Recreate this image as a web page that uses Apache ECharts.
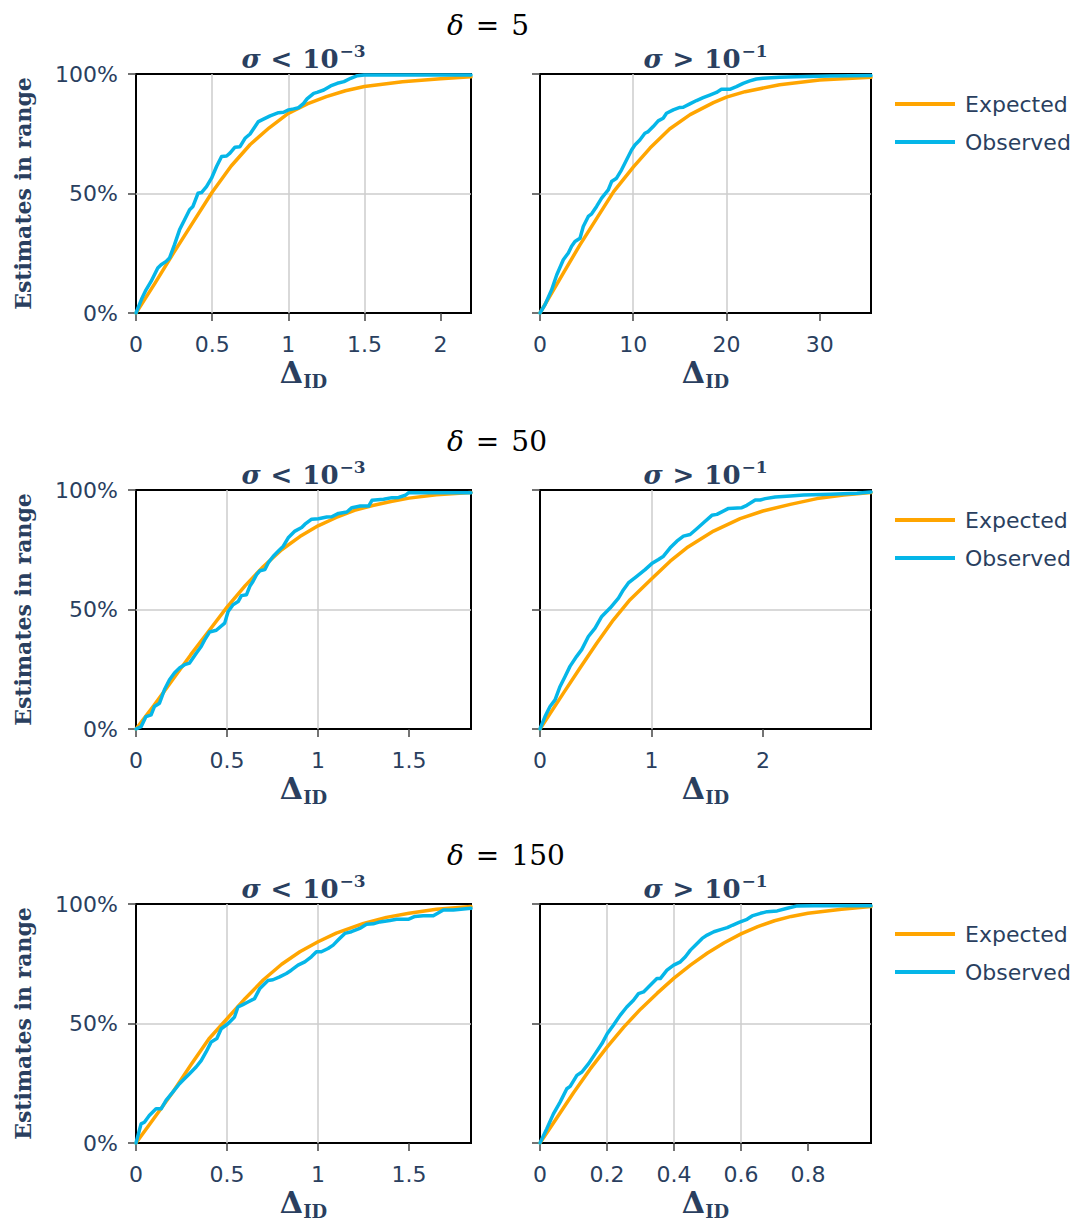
<!DOCTYPE html>
<html>
<head>
<meta charset="utf-8">
<title>Estimates in range</title>
<script src="https://cdn.jsdelivr.net/npm/echarts@6/dist/echarts.min.js"></script>
<style>
html, body { margin: 0; padding: 0; background: #fff; }
#chart { width: 1088px; height: 1222px; }
</style>
</head>
<body>
<div id="chart"></div>
<script>
// values: [Delta_ID, share of estimates in range]
var deltas = ['5', '50', '150'];
var sigmaOps = ['<', '>'];
var sigmaExps = ['\u22123', '\u22121'];

var xMax = [2.2, 35.5, 1.84, 2.97, 1.84, 0.988];
var xStep = [0.5, 10, 0.5, 1, 0.5, 0.2];
var xTicks = [
	[0, 0.5, 1, 1.5, 2],
	[0, 10, 20, 30],
	[0, 0.5, 1, 1.5],
	[0, 1, 2],
	[0, 0.5, 1, 1.5],
	[0, 0.2, 0.4, 0.6, 0.8]
];
var yTicks = [0, 0.5, 1];

var expD5Lo = [[0,0],[0.125,0.125],[0.25,0.255],[0.375,0.38],[0.5,0.505],[0.625,0.615],[0.75,0.705],[0.875,0.775],[1,0.835],[1.125,0.875],[1.25,0.905],[1.375,0.93],[1.5,0.948],[1.75,0.968],[2,0.98],[2.2,0.988]];
var obsD5Lo = [[0,0],[0.04,0.063],[0.066,0.097],[0.099,0.132],[0.143,0.188],[0.165,0.202],[0.198,0.216],[0.22,0.23],[0.253,0.286],[0.286,0.348],[0.319,0.39],[0.352,0.432],[0.374,0.446],[0.407,0.501],[0.43,0.504],[0.463,0.529],[0.496,0.564],[0.529,0.613],[0.562,0.655],[0.595,0.657],[0.617,0.669],[0.65,0.694],[0.683,0.696],[0.716,0.731],[0.749,0.749],[0.804,0.801],[0.837,0.811],[0.881,0.825],[0.936,0.838],[0.969,0.84],[1.002,0.85],[1.035,0.854],[1.068,0.859],[1.101,0.877],[1.123,0.896],[1.167,0.919],[1.189,0.923],[1.233,0.933],[1.278,0.95],[1.322,0.961],[1.366,0.968],[1.41,0.982],[1.454,0.993],[1.498,0.996],[2.2,0.996]];

var expD5Hi = [[0,0],[2.5,0.167],[4.3,0.286],[6.1,0.397],[7.9,0.508],[10,0.61],[11.8,0.69],[13.9,0.77],[16.1,0.83],[18.6,0.88],[20,0.903],[22,0.926],[25.7,0.955],[30,0.975],[35.5,0.986]];
var obsD5Hi = [[0,0],[0.54,0.035],[1.25,0.097],[1.79,0.159],[2.5,0.223],[3.04,0.251],[3.39,0.279],[3.75,0.299],[4.29,0.313],[4.64,0.362],[5.18,0.404],[5.54,0.415],[6.07,0.446],[6.61,0.481],[7.32,0.515],[7.68,0.55],[8.21,0.564],[8.75,0.599],[9.29,0.641],[9.82,0.682],[10.18,0.703],[10.71,0.724],[11.25,0.752],[11.61,0.759],[12.14,0.78],[12.68,0.804],[13.21,0.815],[13.57,0.836],[14.29,0.85],[15,0.86],[15.36,0.861],[16.07,0.875],[16.79,0.889],[17.5,0.901],[18.21,0.912],[18.93,0.923],[19.46,0.936],[20.36,0.936],[21.07,0.947],[21.79,0.961],[22.5,0.971],[23.21,0.979],[23.93,0.982],[25.71,0.986],[27.5,0.989],[31.07,0.992],[35.5,0.994]];

var expD50Lo = [[0,0],[0.1,0.1],[0.2,0.205],[0.3,0.31],[0.4,0.41],[0.5,0.51],[0.6,0.6],[0.7,0.68],[0.8,0.75],[0.9,0.805],[1,0.85],[1.1,0.885],[1.2,0.915],[1.3,0.935],[1.4,0.952],[1.5,0.966],[1.65,0.98],[1.84,0.99]];
var obsD50Lo = [[0,0],[0.028,0.01],[0.055,0.052],[0.083,0.059],[0.101,0.094],[0.129,0.108],[0.156,0.164],[0.184,0.206],[0.211,0.234],[0.239,0.255],[0.267,0.269],[0.294,0.276],[0.331,0.317],[0.358,0.345],[0.377,0.373],[0.404,0.406],[0.441,0.413],[0.487,0.443],[0.506,0.492],[0.533,0.52],[0.561,0.533],[0.579,0.558],[0.607,0.562],[0.625,0.597],[0.643,0.618],[0.662,0.646],[0.68,0.662],[0.708,0.667],[0.726,0.695],[0.754,0.723],[0.781,0.744],[0.809,0.765],[0.836,0.8],[0.873,0.828],[0.91,0.843],[0.928,0.857],[0.965,0.878],[1.002,0.88],[1.048,0.887],[1.075,0.888],[1.112,0.902],[1.158,0.908],[1.186,0.926],[1.232,0.933],[1.278,0.933],[1.296,0.957],[1.36,0.961],[1.406,0.968],[1.443,0.969],[1.48,0.978],[1.498,0.989],[1.618,0.989],[1.84,0.989]];

var expD50Hi = [[0,0],[0.21,0.15],[0.359,0.255],[0.509,0.359],[0.659,0.457],[0.808,0.541],[1,0.628],[1.168,0.702],[1.317,0.758],[1.557,0.828],[1.796,0.88],[2,0.912],[2.246,0.94],[2.485,0.964],[2.725,0.979],[2.97,0.989]];
var obsD50Hi = [[0,0],[0.045,0.052],[0.09,0.094],[0.135,0.122],[0.18,0.178],[0.225,0.22],[0.269,0.262],[0.329,0.304],[0.374,0.332],[0.434,0.387],[0.494,0.422],[0.554,0.471],[0.629,0.506],[0.704,0.548],[0.749,0.583],[0.793,0.611],[0.868,0.639],[0.943,0.667],[1.003,0.692],[1.063,0.709],[1.108,0.723],[1.168,0.758],[1.228,0.786],[1.287,0.807],[1.347,0.814],[1.407,0.838],[1.467,0.863],[1.542,0.894],[1.587,0.898],[1.692,0.923],[1.811,0.926],[1.856,0.936],[1.931,0.958],[1.976,0.958],[2.021,0.964],[2.111,0.971],[2.246,0.975],[2.365,0.979],[2.605,0.982],[2.844,0.986],[2.97,0.992]];

var expD150Lo = [[0,0],[0.1,0.105],[0.2,0.21],[0.3,0.325],[0.4,0.435],[0.5,0.52],[0.6,0.605],[0.7,0.683],[0.8,0.748],[0.9,0.8],[1,0.842],[1.1,0.878],[1.25,0.919],[1.375,0.944],[1.5,0.961],[1.65,0.978],[1.84,0.99]];
var obsD150Lo = [[0,0],[0.028,0.08],[0.046,0.087],[0.073,0.115],[0.11,0.143],[0.138,0.143],[0.165,0.178],[0.202,0.213],[0.239,0.248],[0.266,0.269],[0.294,0.29],[0.33,0.318],[0.358,0.345],[0.385,0.381],[0.413,0.423],[0.444,0.437],[0.468,0.478],[0.505,0.499],[0.541,0.527],[0.56,0.569],[0.587,0.579],[0.615,0.59],[0.651,0.604],[0.679,0.645],[0.697,0.659],[0.725,0.68],[0.752,0.683],[0.789,0.695],[0.826,0.709],[0.853,0.723],[0.89,0.744],[0.927,0.758],[0.963,0.779],[0.991,0.8],[1.018,0.8],[1.055,0.814],[1.083,0.828],[1.11,0.849],[1.147,0.877],[1.183,0.884],[1.229,0.898],[1.266,0.915],[1.303,0.917],[1.339,0.925],[1.394,0.931],[1.431,0.936],[1.495,0.936],[1.532,0.948],[1.578,0.951],[1.633,0.951],[1.688,0.975],[1.743,0.975],[1.798,0.979],[1.84,0.982]];

var expD150Hi = [[0,0],[0.05,0.105],[0.1,0.21],[0.15,0.31],[0.2,0.401],[0.25,0.485],[0.3,0.56],[0.35,0.627],[0.4,0.69],[0.45,0.745],[0.5,0.795],[0.55,0.838],[0.6,0.875],[0.65,0.905],[0.7,0.93],[0.75,0.948],[0.8,0.961],[0.9,0.978],[0.988,0.989]];
var obsD150Hi = [[0,0],[0.02,0.059],[0.04,0.122],[0.06,0.171],[0.08,0.227],[0.09,0.237],[0.11,0.283],[0.125,0.297],[0.145,0.332],[0.165,0.374],[0.185,0.416],[0.201,0.458],[0.219,0.493],[0.239,0.534],[0.259,0.569],[0.279,0.597],[0.294,0.625],[0.309,0.632],[0.329,0.66],[0.349,0.688],[0.359,0.688],[0.379,0.723],[0.399,0.744],[0.419,0.758],[0.434,0.779],[0.449,0.807],[0.469,0.835],[0.484,0.856],[0.499,0.87],[0.519,0.884],[0.539,0.893],[0.559,0.901],[0.574,0.911],[0.594,0.923],[0.618,0.936],[0.633,0.95],[0.658,0.961],[0.678,0.968],[0.708,0.971],[0.738,0.982],[0.768,0.992],[0.818,0.993],[0.988,0.993]];

var expected = [expD5Lo, expD5Hi, expD50Lo, expD50Hi, expD150Lo, expD150Hi];
var observed = [obsD5Lo, obsD5Hi, obsD50Lo, obsD50Hi, obsD150Lo, obsD150Hi];

// layout
var colLeft = [136, 540];
var colWidth = [335, 331];
var rowTop = [74, 490, 904];
var plotH = 239;
var ink = '#2a3f5f';
var orange = '#ffa500';
var blue = '#05b6e8';
var tickFont = 'DejaVu Sans';
var mathFont = 'DejaVu Serif';

var grids = [], xAxes = [], yAxes = [], series = [], legends = [], graphics = [];

for (var i = 0; i < 6; i++) {
	var r = Math.floor(i / 2), c = i % 2;
	grids.push({
		left: colLeft[c], top: rowTop[r], width: colWidth[c], height: plotH,
		show: true, borderColor: '#000', borderWidth: 2, backgroundColor: '#fff',
		containLabel: false, outerBoundsMode: 'none'
	});
	xAxes.push({
		gridIndex: i, type: 'value', min: 0, max: xMax[i], interval: xStep[i],
		axisLine: { show: false },
		axisTick: { show: true, length: 8, customValues: xTicks[i], lineStyle: { color: '#444', width: 1.5 } },
		axisLabel: { customValues: xTicks[i], margin: 20, fontSize: 22, fontFamily: tickFont, color: ink },
		splitLine: { show: true, showMinLine: false, showMaxLine: false, lineStyle: { color: '#cccccc', width: 1.5 } }
	});
	yAxes.push({
		gridIndex: i, type: 'value', min: 0, max: 1, interval: 0.5,
		axisLine: { show: false },
		axisTick: { show: true, length: 8, customValues: yTicks, lineStyle: { color: '#444', width: 1.5 } },
		axisLabel: {
			show: c === 0, customValues: yTicks, margin: 18, fontSize: 22, fontFamily: tickFont, color: ink,
			formatter: function (v) { return Math.round(v * 100) + '%'; }
		},
		splitLine: { show: true, showMinLine: false, showMaxLine: false, lineStyle: { color: '#cccccc', width: 1.5 } }
	});
	series.push({
		type: 'line', name: 'Expected', xAxisIndex: i, yAxisIndex: i, data: expected[i],
		symbol: 'none', showSymbol: false, clip: false,
		lineStyle: { color: orange, width: 3.5, join: 'round', cap: 'round' }, itemStyle: { color: orange }
	});
	series.push({
		type: 'line', name: 'Observed', xAxisIndex: i, yAxisIndex: i, data: observed[i],
		symbol: 'none', showSymbol: false, clip: false,
		lineStyle: { color: blue, width: 3.5, join: 'round', cap: 'round' }, itemStyle: { color: blue }
	});

	var cx = colLeft[c] + colWidth[c] / 2;
	// sigma title above each panel
	graphics.push({
		type: 'text', x: cx, y: rowTop[r] - 17,
		style: {
			text: '{s|\u03c3}{o|' + sigmaOps[c] + '}{n|10}{p|' + sigmaExps[c] + '}',
			align: 'center', verticalAlign: 'middle', fill: ink,
			fontFamily: mathFont, fontWeight: 'bold', fontSize: 26,
			rich: {
				s: { fontFamily: mathFont, fontWeight: 'bold', fontStyle: 'italic', fontSize: 26, fill: ink, verticalAlign: 'bottom' },
				o: { fontFamily: mathFont, fontWeight: 'bold', fontSize: 26, fill: ink, padding: [0, 10, 0, 10], verticalAlign: 'bottom' },
				n: { fontFamily: mathFont, fontWeight: 'bold', fontSize: 26, fill: ink, verticalAlign: 'bottom' },
				p: { fontFamily: mathFont, fontWeight: 'bold', fontSize: 17, fill: ink, padding: [0, 0, 13, 1], verticalAlign: 'bottom' }
			}
		}
	});
	// x axis name
	graphics.push({
		type: 'text', x: cx, y: rowTop[r] + plotH + 61,
		style: {
			text: '{d|\u0394}{s|ID}',
			align: 'center', verticalAlign: 'middle', fill: ink,
			fontFamily: mathFont, fontWeight: 'bold', fontSize: 28,
			rich: {
				d: { fontFamily: mathFont, fontWeight: 'bold', fontSize: 30, fill: ink, padding: [0, 0, 3, 0], verticalAlign: 'bottom' },
				s: { fontFamily: mathFont, fontWeight: 'bold', fontSize: 18, fill: ink, verticalAlign: 'bottom' }
			}
		}
	});
}

for (var r = 0; r < 3; r++) {
	legends.push({
		orient: 'vertical', left: 895, top: rowTop[r] + 17, padding: 0,
		icon: 'rect', itemWidth: 60, itemHeight: 4, itemGap: 12,
		textStyle: { fontSize: 22, fontFamily: tickFont, color: ink, lineHeight: 26, padding: [0, 0, 0, 5] },
		data: ['Expected', 'Observed']
	});
	// delta heading
	graphics.push({
		type: 'text', x: 447, y: rowTop[r] - 49,
		style: {
			text: '{d|\u03b4}{e|=}{n|' + deltas[r] + '}',
			align: 'left', verticalAlign: 'middle', fill: '#000',
			fontFamily: mathFont, fontSize: 28,
			rich: {
				d: { fontFamily: mathFont, fontStyle: 'italic', fontSize: 28, fill: '#000' },
				e: { fontFamily: mathFont, fontSize: 28, fill: '#000', padding: [0, 12, 0, 12] },
				n: { fontFamily: mathFont, fontSize: 28, fill: '#000' }
			}
		}
	});
	// y axis name
	graphics.push({
		type: 'text', x: 23, y: rowTop[r] + plotH / 2, rotation: Math.PI / 2,
		style: {
			text: 'Estimates in range', align: 'center', verticalAlign: 'middle', fill: ink,
			fontFamily: mathFont, fontWeight: 'bold', fontSize: 22
		}
	});
}

var chart = echarts.init(document.getElementById('chart'), null, { renderer: 'svg' });
chart.setOption({
	animation: false,
	backgroundColor: '#fff',
	grid: grids,
	xAxis: xAxes,
	yAxis: yAxes,
	legend: legends,
	series: series,
	graphic: graphics
});
</script>
</body>
</html>
